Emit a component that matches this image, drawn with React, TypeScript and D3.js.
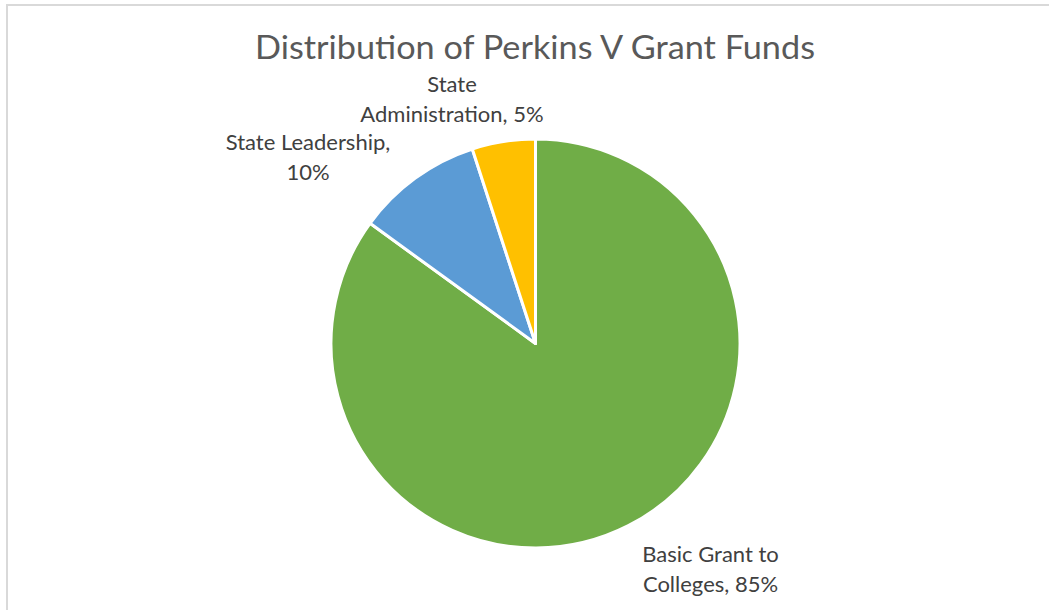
import React from "react";
import * as d3 from "d3";

const categories = ["Basic Grant to Colleges", "State Leadership", "State Administration"];
const values = [85, 10, 5];
const colors = ["#70AD47", "#5B9BD5", "#FFC000"];
const labelLines = [
  ["Basic Grant to", "Colleges, 85%"],
  ["State Leadership,", "10%"],
  ["State", "Administration, 5%"],
];
const title = "Distribution of Perkins V Grant Funds";

const W = 1049;
const H = 610;
const cx = 535.5;
const cy = 343.5;
const R = 204.5;
// label anchors (center x, first baseline y)
const labelPos = [
  [710.5, 562],
  [308, 150],
  [452, 92],
];

export default function App() {
  const pie = d3.pie<number>().sort(null).value((d) => d)(values);
  const arc = d3.arc<d3.PieArcDatum<number>>().innerRadius(0).outerRadius(R);
  const font = "Lato, 'Open Sans', sans-serif";
  return (
    <svg width={W} height={H} style={{ position: "absolute", left: 0, top: 0 }}>
      <rect x={0} y={0} width={W} height={H} fill="#fff" />
      <rect x={7} y={5} width={W + 20} height={H + 20} fill="#fff" stroke="#d9d9d9" strokeWidth={2} />
      <text x={535} y={59} textAnchor="middle" fontFamily={font} fontSize={32} fill="#595959" textLength={560} lengthAdjust="spacingAndGlyphs">
        {title}
      </text>
      <g transform={`translate(${cx},${cy})`}>
        {pie.map((p, i) => (
          <path key={categories[i]} d={arc(p) || ""} fill={colors[i]} stroke="#fff" strokeWidth={3} strokeLinejoin="round" />
        ))}
      </g>
      {labelLines.map((lines, i) => (
        <text key={i} textAnchor="middle" fontFamily={font} fontSize={22} fill="#404040">
          {lines.map((l, j) => (
            <tspan key={j} x={labelPos[i][0]} y={labelPos[i][1] + j * 29.5}>
              {l}
            </tspan>
          ))}
        </text>
      ))}
    </svg>
  );
}
